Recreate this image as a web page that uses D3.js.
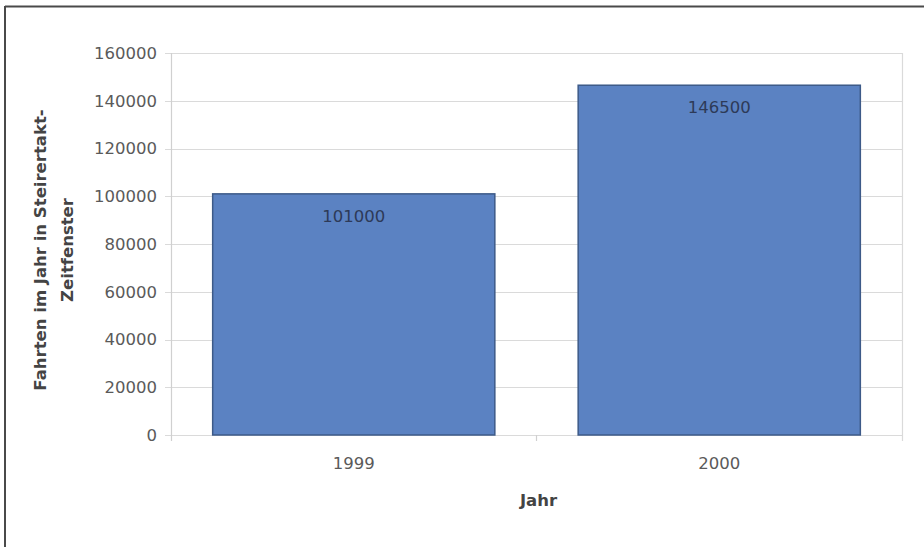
<!DOCTYPE html>
<html>
<head>
<meta charset="utf-8">
<script src="https://cdn.jsdelivr.net/npm/d3@7"></script>
<style>
  html, body { margin: 0; padding: 0; background: #fff; }
  svg { display: block; }
  text { font-family: "DejaVu Sans", "Liberation Sans", Arial, sans-serif; }
</style>
</head>
<body>
<svg id="chart" width="924" height="547"></svg>
<script>
// Fahrten im Steirertakt-Zeitfenster per year
const years = ["1999", "2000"];
const trips = [101000, 146500];
const yTicks = [0, 20000, 40000, 60000, 80000, 100000, 120000, 140000, 160000];
const yTitleLines = ["Fahrten im Jahr in Steirertakt-", "Zeitfenster"];
const xTitle = "Jahr";

const svg = d3.select("#chart");
const plot = { left: 171, right: 902, top: 53, bottom: 435 };
const fontSize = 16.5;

// frame around the chart (top and left edges)
svg.append("line").attr("x1", 5).attr("x2", 924).attr("y1", 6.5).attr("y2", 6.5)
  .attr("stroke", "#4a4a4a").attr("stroke-width", 2);
svg.append("line").attr("x1", 5).attr("x2", 5).attr("y1", 6).attr("y2", 547)
  .attr("stroke", "#4a4a4a").attr("stroke-width", 2);

const x = d3.scaleBand()
  .domain(years)
  .range([plot.left, plot.right])
  .paddingInner(0.228)
  .paddingOuter(0.114);

const y = d3.scaleLinear()
  .domain([0, 160000])
  .range([plot.bottom, plot.top]);

// horizontal gridlines
svg.append("g")
  .selectAll("line")
  .data(yTicks)
  .join("line")
  .attr("x1", plot.left - 6)
  .attr("x2", plot.right)
  .attr("y1", d => Math.round(y(d)) + 0.5)
  .attr("y2", d => Math.round(y(d)) + 0.5)
  .attr("stroke", "#dadada")
  .attr("stroke-width", 1.2);

// plot area right edge and value axis line
svg.append("line")
  .attr("x1", plot.right + 0.5).attr("x2", plot.right + 0.5)
  .attr("y1", plot.top).attr("y2", plot.bottom + 6)
  .attr("stroke", "#dadada").attr("stroke-width", 1.2);
svg.append("line")
  .attr("x1", plot.left + 0.5).attr("x2", plot.left + 0.5)
  .attr("y1", plot.top).attr("y2", plot.bottom + 6)
  .attr("stroke", "#d0d0d0").attr("stroke-width", 1.2);

// category separators on the x axis
const step = x.step();
svg.append("g")
  .selectAll("line")
  .data(years.slice(1))
  .join("line")
  .attr("x1", d => x(d) - x.paddingInner() * step / 2)
  .attr("x2", d => x(d) - x.paddingInner() * step / 2)
  .attr("y1", plot.bottom)
  .attr("y2", plot.bottom + 6)
  .attr("stroke", "#d0d0d0").attr("stroke-width", 1.2);

// y tick labels
svg.append("g")
  .selectAll("text")
  .data(yTicks)
  .join("text")
  .attr("x", 157)
  .attr("y", d => y(d))
  .attr("dy", "0.36em")
  .attr("text-anchor", "end")
  .attr("font-size", fontSize)
  .attr("fill", "#5a5a5a")
  .text(d => d);

// bars
svg.append("g")
  .selectAll("rect")
  .data(trips)
  .join("rect")
  .attr("x", (d, i) => x(years[i]))
  .attr("y", d => y(d))
  .attr("width", x.bandwidth())
  .attr("height", d => y(0) - y(d))
  .attr("fill", "#5b82c2")
  .attr("stroke", "#3d5a88")
  .attr("stroke-width", 1.5);

// value labels inside the bars
svg.append("g")
  .selectAll("text")
  .data(trips)
  .join("text")
  .attr("x", (d, i) => x(years[i]) + x.bandwidth() / 2)
  .attr("y", d => y(d) + 28)
  .attr("text-anchor", "middle")
  .attr("font-size", fontSize)
  .attr("fill", "#2d3a58")
  .text(d => d);

// x tick labels
svg.append("g")
  .selectAll("text")
  .data(years)
  .join("text")
  .attr("x", d => x(d) + x.bandwidth() / 2)
  .attr("y", 469)
  .attr("text-anchor", "middle")
  .attr("font-size", fontSize)
  .attr("fill", "#5a5a5a")
  .text(d => d);

// x axis title
svg.append("text")
  .attr("x", (plot.left + plot.right) / 2 + 2)
  .attr("y", 506)
  .attr("text-anchor", "middle")
  .attr("font-size", fontSize)
  .attr("font-weight", "bold")
  .attr("fill", "#444")
  .text(xTitle);

// y axis title (two lines, rotated)
const yt = svg.append("text")
  .attr("transform", "translate(40,250) rotate(-90)")
  .attr("text-anchor", "middle")
  .attr("font-size", fontSize)
  .attr("font-weight", "bold")
  .attr("fill", "#444");
yt.selectAll("tspan")
  .data(yTitleLines)
  .join("tspan")
  .attr("x", 0)
  .attr("y", (d, i) => 6 + i * 27)
  .text(d => d);
</script>
</body>
</html>
